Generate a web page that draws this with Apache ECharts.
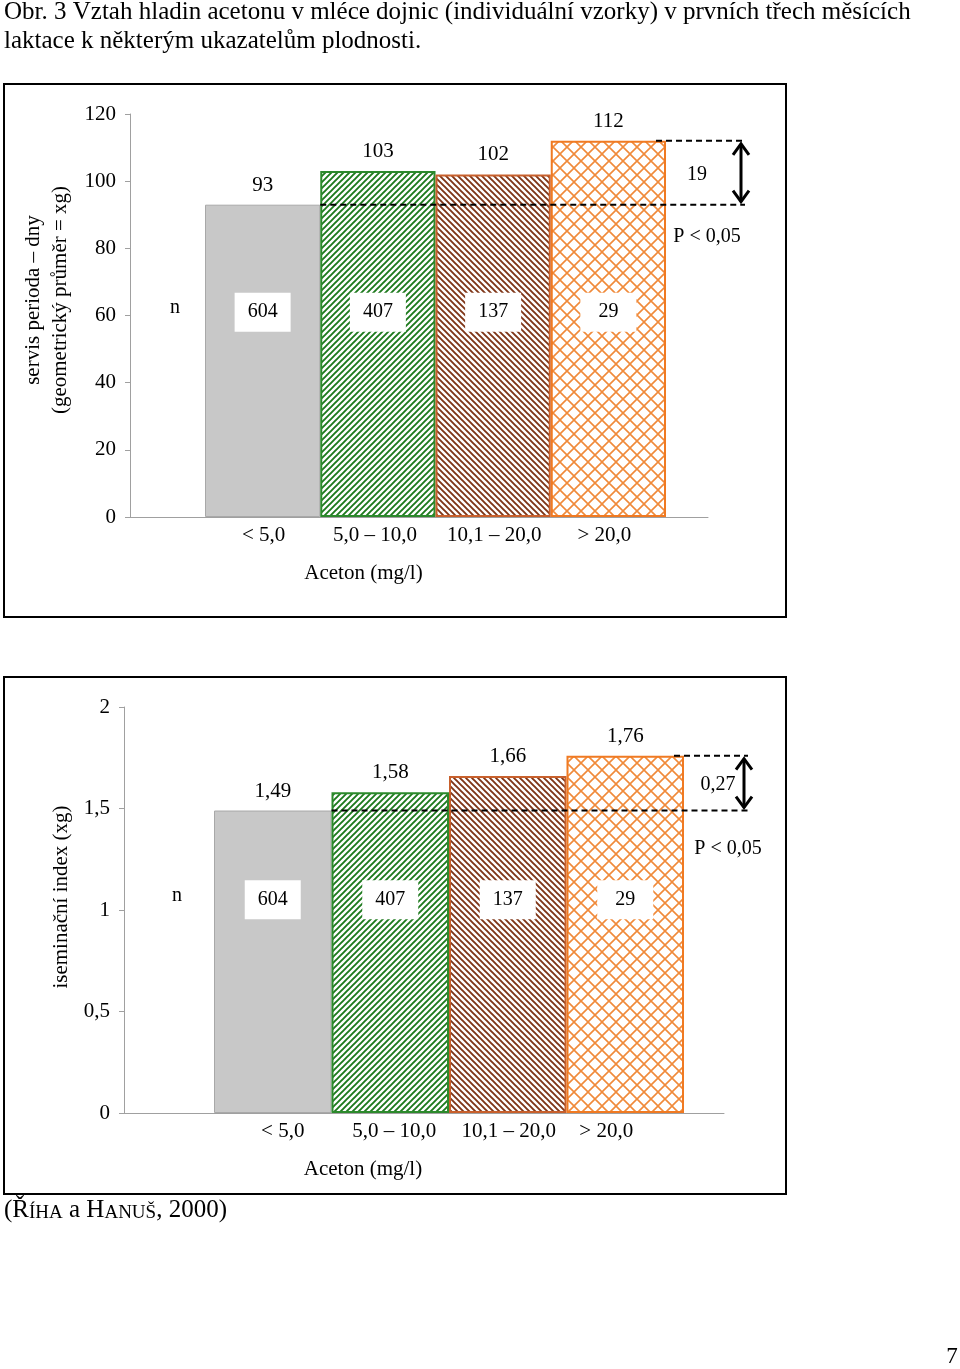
<!DOCTYPE html>
<html><head><meta charset="utf-8">
<script src="https://cdn.jsdelivr.net/npm/echarts@6/dist/echarts.min.js"></script>
<style>html,body{margin:0;padding:0;background:#fff}#c{width:960px;height:1369px}</style>
</head><body><div id="c"></div>
<script>
// ---- data ----
const categories = ['< 5,0', '5,0 – 10,0', '10,1 – 20,0', '> 20,0'];
const servisValues = [93, 103, 102, 112];
const indexValues = [1.49, 1.58, 1.66, 1.76];
const nCounts = [604, 407, 137, 29];
const servisTicks = { min: 0, max: 120, interval: 20 };
const indexTicks = { min: 0, max: 2, interval: 0.5 };
const titleLines = ['Obr. 3 Vztah hladin acetonu v mléce dojnic (individuální vzorky) v prvních třech měsících',
                    'laktace k některým ukazatelům plodnosti.'];
const xAxisName = 'Aceton (mg/l)';
const servisYName = ['servis perioda – dny', '(geometrický průměr = xg)'];
const indexYName = ['iseminační index (xg)'];
const pText = 'P < 0,05';

// ---- styling ----
const FONT = 'Liberation Serif, Times New Roman, serif';
const comma = v => String(v).replace('.', ',');

function makePattern(kind) {
  const c = document.createElement('canvas');
  const g = c.getContext('2d');
  if (kind === 'cross') {
    const s = 14; c.width = c.height = s;
    g.fillStyle = '#fff'; g.fillRect(0, 0, s, s);
    g.strokeStyle = '#f08a3a'; g.lineWidth = 1.6;
    g.beginPath(); g.moveTo(0, 0); g.lineTo(s, s); g.moveTo(0, s); g.lineTo(s, 0); g.stroke();
  } else {
    const s = 6; c.width = c.height = s;
    g.fillStyle = '#fff'; g.fillRect(0, 0, s, s);
    g.strokeStyle = kind === 'green' ? '#1d7a1d' : '#7f3517'; g.lineWidth = 1.9;
    g.beginPath();
    if (kind === 'green') {
      g.moveTo(-1, s + 1); g.lineTo(s + 1, -1);
      g.moveTo(-2, 2); g.lineTo(2, -2);
      g.moveTo(s - 2, s + 2); g.lineTo(s + 2, s - 2);
    } else {
      g.moveTo(-1, -1); g.lineTo(s + 1, s + 1);
      g.moveTo(-2, s - 2); g.lineTo(2, s + 2);
      g.moveTo(s - 2, -2); g.lineTo(s + 2, 2);
    }
    g.stroke();
  }
  return { image: c, repeat: 'repeat' };
}
const barStyles = [
  { color: '#c8c8c8', borderColor: '#a8a8a8', borderWidth: 1 },
  { color: makePattern('green'), borderColor: '#2c8a2c', borderWidth: 2 },
  { color: makePattern('brown'), borderColor: '#c8602c', borderWidth: 2 },
  { color: makePattern('cross'), borderColor: '#f07a22', borderWidth: 2 }
];

const H = 1369, W = 960;
const panels = [
  { values: servisValues, ticks: servisTicks, frameL: 130, frameR: 708, barL: 205, barR: 666, top: 114, bottom: 517,
    nLevel: 61, nX: 175, nameShift: 144, arrowX: 741, lineEnd: 745, diffX: 697, pX: 707, pDy: 32,
    labelShift: [1, -3, 1, -4],
    yName: servisYName, yNameX: 47, yNameY: 300, box: [4, 84, 786, 617] },
  { values: indexValues, ticks: indexTicks, frameL: 124, frameR: 724, barL: 214, barR: 684, top: 707, bottom: 1113,
    nLevel: 1.05, nX: 177, nameShift: 172, arrowX: 744, lineEnd: 748, diffX: 718, pX: 728, pDy: 38,
    labelShift: [10, 4, 1, -19],
    yName: indexYName, yNameX: 61, yNameY: 897, box: [4, 677, 786, 1194] }
];

const grid = [], xAxis = [], yAxis = [], series = [];
const txt = { fontFamily: FONT, fontSize: 21, color: '#000' };
panels.forEach((p, k) => {
  const gf = grid.length;
  grid.push({ left: p.frameL, right: W - p.frameR, top: p.top, bottom: H - p.bottom });
  grid.push({ left: p.barL, right: W - p.barR, top: p.top, bottom: H - p.bottom });
  xAxis.push({ gridIndex: gf, type: 'value', min: 0, max: 1, axisLabel: { show: false }, axisTick: { show: false },
    splitLine: { show: false }, axisLine: { lineStyle: { color: '#a0a0a0', width: 1 } } });
  xAxis.push({ gridIndex: gf + 1, type: 'category',
    data: categories.map((c, i) => {
      const s = p.labelShift[i];
      return { value: c, textStyle: { padding: s >= 0 ? [0, 0, 0, 2 * s] : [0, -2 * s, 0, 0] } };
    }),
    axisLine: { show: false }, axisTick: { show: false },
    axisLabel: Object.assign({ margin: 8, interval: 0, hideOverlap: false }, txt),
    name: xAxisName, nameLocation: 'middle', nameGap: 46,
    nameTextStyle: Object.assign({ padding: [0, p.nameShift, 0, 0] }, txt) });
  yAxis.push({ gridIndex: gf, type: 'value', min: p.ticks.min, max: p.ticks.max, interval: p.ticks.interval,
    axisLine: { show: true, lineStyle: { color: '#a0a0a0', width: 1 } },
    axisTick: { show: true, length: 5, lineStyle: { color: '#a0a0a0' } },
    splitLine: { show: false },
    axisLabel: Object.assign({ margin: 14, formatter: comma }, txt) });
  yAxis.push({ gridIndex: gf + 1, type: 'value', min: p.ticks.min, max: p.ticks.max, show: false, splitLine: { show: false } });
  series.push({
    type: 'bar', xAxisIndex: gf + 1, yAxisIndex: gf + 1, barCategoryGap: '0%',
    data: p.values.map((v, i) => ({ value: v, itemStyle: barStyles[i] })),
    label: Object.assign({ show: true, position: 'top', distance: 9, formatter: d => comma(d.value) }, txt),
    emphasis: { disabled: true }, silent: true, z: 2
  });
  series.push({
    type: 'scatter', xAxisIndex: gf + 1, yAxisIndex: gf + 1, symbolSize: 1,
    itemStyle: { color: 'transparent', opacity: 1 },
    data: nCounts.map((n, i) => [i, p.nLevel]),
    label: Object.assign({ show: true, position: 'inside', opacity: 1, formatter: d => String(nCounts[d.dataIndex]),
      backgroundColor: '#ffffff', padding: [9, 11, 9, 11], width: 34, align: 'center', lineHeight: 21,
      textBorderWidth: 0 }, txt, { fontSize: 20 }),
    emphasis: { disabled: true }, silent: true, z: 5
  });
});

const chart = echarts.init(document.getElementById('c'), null, { renderer: 'canvas' });
chart.setOption({
  animation: false,
  backgroundColor: '#fff',
  title: { text: titleLines.join('\n'), left: 4, top: -2, padding: 0,
    textStyle: { fontFamily: FONT, fontSize: 25, fontWeight: 'normal', color: '#000', lineHeight: 29 } },
  grid, xAxis, yAxis, series
});

// ---- annotations positioned through the axes ----
const graphic = [];
panels.forEach((p, k) => {
  const gb = k * 2 + 1;
  const toPx = (c, v) => chart.convertToPixel({ xAxisIndex: gb, yAxisIndex: gb }, [c, v]);
  const first = p.values[0], last = p.values[p.values.length - 1];
  const yBase = toPx(0, first)[1], yTop = toPx(3, last)[1];
  const c0 = toPx(0, 0)[0], c1 = toPx(1, 0)[0], c3 = toPx(3, 0)[0];
  const band = c1 - c0;
  const xStart = c1 - band / 2, xTopStart = c3 + band / 2 - 10;
  const [bx0, by0, bx1, by1] = p.box;
  graphic.push({ type: 'rect', shape: { x: bx0, y: by0, width: bx1 - bx0, height: by1 - by0 },
    style: { fill: 'none', stroke: '#000', lineWidth: 2 }, silent: true, z: 0 });
  const dash = { stroke: '#000', lineWidth: 2, lineDash: [6, 4] };
  graphic.push({ type: 'line', shape: { x1: xStart, y1: yBase, x2: p.lineEnd, y2: yBase }, style: dash, z: 10 });
  graphic.push({ type: 'line', shape: { x1: xTopStart, y1: yTop, x2: p.lineEnd, y2: yTop }, style: dash, z: 10 });
  const ax = p.arrowX, a = { stroke: '#000', lineWidth: 3, fill: 'none' };
  graphic.push({ type: 'line', shape: { x1: ax, y1: yTop + 3, x2: ax, y2: yBase - 3 }, style: a, z: 10 });
  graphic.push({ type: 'polyline', shape: { points: [[ax - 8, yTop + 14], [ax, yTop + 3], [ax + 8, yTop + 14]] }, style: a, z: 10 });
  graphic.push({ type: 'polyline', shape: { points: [[ax - 8, yBase - 14], [ax, yBase - 3], [ax + 8, yBase - 14]] }, style: a, z: 10 });
  const diff = Math.round((last - first) * 100) / 100;
  graphic.push({ type: 'text', x: p.diffX, y: (yTop + yBase) / 2 + 2, style: { text: comma(diff), fontFamily: FONT, fontSize: 20, fill: '#000', align: 'center', verticalAlign: 'middle' }, z: 11 });
  graphic.push({ type: 'text', x: p.pX, y: yBase + p.pDy, style: { text: pText, fontFamily: FONT, fontSize: 20, fill: '#000', align: 'center', verticalAlign: 'middle' }, z: 11 });
  const yn = toPx(0, p.nLevel)[1];
  graphic.push({ type: 'text', x: p.nX, y: yn - 4, style: { text: 'n', fontFamily: FONT, fontSize: 20, fill: '#000', align: 'center', verticalAlign: 'middle' }, z: 11 });
  graphic.push({ type: 'text', x: p.yNameX, y: p.yNameY, rotation: Math.PI / 2,
    style: { text: p.yName.join('\n'), fontFamily: FONT, fontSize: 21, lineHeight: 27, fill: '#000', align: 'center', verticalAlign: 'middle' }, z: 11 });
});
graphic.push({ type: 'text', x: 4, y: 1210, style: {
  text: '{b|(Ř}{s|ÍHA}{b| a H}{s|ANUŠ}{b|, 2000)}', verticalAlign: 'middle', fontFamily: FONT, fontSize: 25, fill: '#000',
  rich: { b: { fontFamily: FONT, fontSize: 25, fill: '#000', verticalAlign: 'bottom' },
          s: { fontFamily: FONT, fontSize: 19, fill: '#000', verticalAlign: 'bottom' } } } });
graphic.push({ type: 'text', x: 952, y: 1357, style: { text: '7', fontFamily: FONT, fontSize: 23, fill: '#000', align: 'center', verticalAlign: 'middle' } });
chart.setOption({ graphic });
</script>
</body></html>
